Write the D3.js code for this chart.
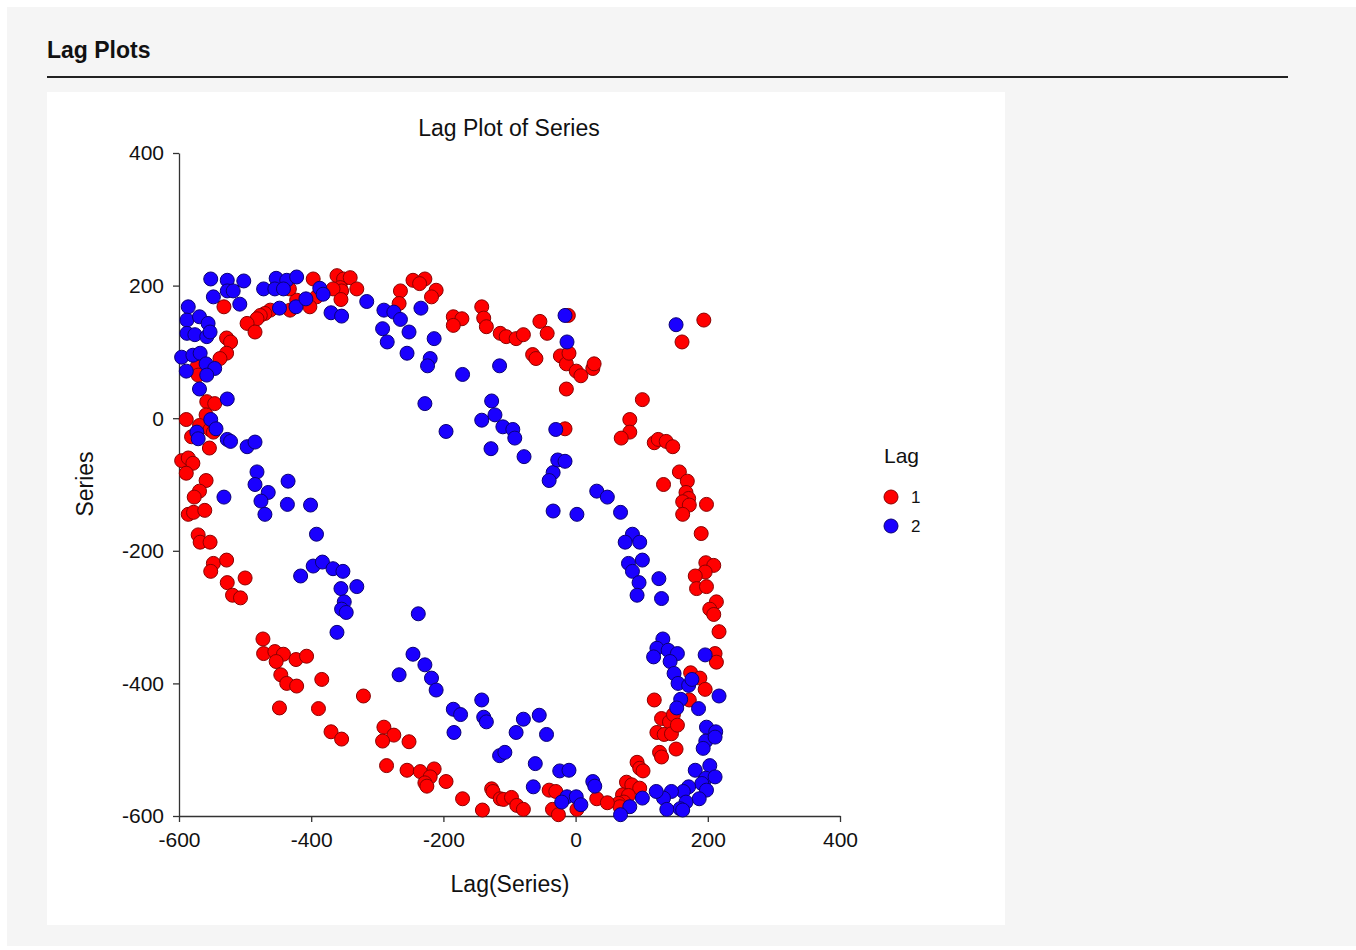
<!DOCTYPE html>
<html>
<head>
<meta charset="utf-8">
<script src="https://cdn.jsdelivr.net/npm/d3@7"></script>
<style>
  body { margin: 0; background: #ffffff; font-family: Arial, "Liberation Sans", sans-serif; }
</style>
</head>
<body>
<svg id="chart" width="1356" height="950"></svg>
<script>
// Lag 1 points [lag(series), series]
var lag1 = [
  [-397,210],[-361,215],[-351,210],[-341,212],[-356,197],[-354,192],[-367,195],[-331,195],[-355,179],[-392,183],
  [-402,168],[-422,178],[-433,195],[-432,163],[-462,163],[-470,158],[-477,155],[-482,150],[-497,143],[-485,130],
  [-532,168],[-528,121],[-522,115],[-528,98],[-538,90],[-573,77],[-571,65],[-558,25],[-546,22],[-559,5],
  [-589,-2],[-569,-11],[-553,-17],[-581,-28],[-548,-21],[-554,-45],[-596,-64],[-586,-60],[-579,-68],
  [-589,-83],[-559,-94],[-569,-110],[-577,-119],[-586,-145],[-578,-142],[-561,-139],[-571,-176],[-568,-187],[-553,-187],
  [-548,-219],[-528,-214],[-552,-231],[-527,-248],[-500,-241],[-519,-267],[-507,-271],[-473,-333],[-472,-355],[-455,-352],
  [-442,-356],[-453,-367],[-423,-364],[-407,-359],
  [-446,-387],[-437,-400],[-422,-404],[-384,-394],[-448,-437],[-389,-438],[-370,-473],[-354,-484],[-321,-419],
  [-290,-466],[-275,-478],[-292,-487],[-252,-488],[-286,-524],[-255,-531],[-235,-533],[-214,-529],[-220,-541],[-228,-550],
  [-225,-555],[-196,-548],[-171,-574],[-141,-591],[-127,-559],[-125,-563],[-114,-574],[-109,-575],[-97,-572],[-89,-584],
  [-79,-590],[-40,-561],[-30,-563],[-35,-590],[-26,-598],
  [-246,208],[-228,210],[-236,203],[-265,192],[-211,193],[-218,183],[-267,173],[-185,153],[-172,150],[-185,140],
  [-142,168],[-139,151],[-135,138],[-114,128],[-105,123],[-90,120],[-79,126],[-54,146],[-43,128],[-65,96],
  [-60,90],[-23,94],[-14,82],[-14,44],[-16,-16],
  [-11,155],[-10,98],[1,71],[8,64],[26,75],[28,82],[194,148],[161,115],[101,28],[82,-2],
  [82,-21],[69,-30],[119,-37],[125,-32],[137,-35],[147,-43],
  [157,-81],[169,-95],[133,-100],[167,-112],[171,-121],[162,-126],[172,-131],[162,-145],[198,-130],[190,-174],
  [197,-218],[209,-222],[196,-232],[181,-238],[183,-257],[198,-254],[213,-277],[203,-288],[209,-296],[217,-322],
  [211,-355],[213,-368],
  [174,-384],[188,-392],[196,-409],[119,-425],[172,-425],[130,-453],[142,-458],[148,-447],[123,-474],[134,-477],
  [145,-476],[154,-463],[127,-504],[130,-511],[152,-499],[93,-519],[97,-528],[102,-532],[77,-549],[85,-553],
  [97,-558],[71,-568],[80,-569],[73,-579],[65,-581],[67,-586],[32,-574],[48,-580],[2,-590]
];

// Lag 2 points
var lag2 = [
  [-552,210],[-527,208],[-502,207],[-548,183],[-527,192],[-518,192],[-508,172],[-472,195],[-453,211],[-437,208],
  [-422,213],[-455,195],[-442,195],[-448,166],[-423,168],[-408,180],[-387,196],[-382,187],[-370,159],[-354,154],
  [-316,176],[-586,168],[-588,148],[-569,153],[-556,143],[-588,128],[-576,126],[-558,123],[-553,130],[-596,92],
  [-579,95],[-568,98],[-559,82],[-546,75],[-589,71],[-558,65],[-569,44],[-527,29],[-552,-2],[-544,-16],
  [-573,-21],[-571,-31],[-527,-32],[-522,-35],[-497,-43],[-485,-36],
  [-482,-81],[-485,-100],[-465,-112],[-476,-125],[-470,-145],[-532,-119],[-435,-95],[-436,-130],[-401,-131],[-392,-175],
  [-397,-223],[-383,-217],[-367,-227],[-352,-231],[-416,-238],[-355,-257],[-331,-254],[-350,-277],[-354,-288],[-347,-293],
  [-361,-323],
  [-238,-295],[-246,-356],[-228,-372],[-267,-387],[-218,-392],[-211,-410],[-185,-439],[-174,-447],[-184,-474],[-142,-425],
  [-139,-451],[-135,-458],[-79,-454],[-55,-448],[-90,-474],[-44,-477],[-115,-509],[-107,-504],[-61,-521],[-64,-556],
  [-34,-82],[-40,-94],[-34,-140],
  [-290,163],[-275,160],[-265,149],[-292,135],[-285,115],[-252,130],[-234,166],[-214,120],[-255,98],[-220,90],
  [-224,79],[-171,66],[-115,79],[-228,22],[-196,-20],[-127,26],[-122,5],[-142,-3],[-110,-13],[-95,-17],
  [-92,-30],[-128,-46],[-78,-58],[-30,-17],[-16,155],[-13,115],[-27,-63],[-16,-65],
  [152,141],
  [2,-145],[32,-110],[48,-119],[68,-142],[86,-175],[75,-187],[97,-187],[101,-214],[80,-219],[86,-231],
  [96,-248],[93,-267],[126,-242],[130,-272],[132,-333],[123,-347],[118,-360],[140,-350],[154,-355],[196,-357],
  [143,-367],[149,-385],[155,-400],[171,-403],[176,-394],[159,-424],[153,-437],[186,-438],[217,-419],[198,-466],
  [212,-473],[197,-487],[193,-498],[211,-481],[181,-531],[203,-524],[197,-543],[211,-541],[191,-551],[198,-561],
  [187,-574],[171,-556],[163,-563],[167,-579],[158,-589],[162,-591],[145,-563],[133,-573],[122,-563],[138,-590],
  [101,-573],[82,-586],[68,-598],[26,-548],[29,-555],[-24,-532],[-10,-531],[-13,-571],[1,-571],[8,-583],
  [-21,-579]
];

var ticks = [-600, -400, -200, 0, 200, 400];
var lagNames = ["1", "2"];
var lagColors = ["#ff0000", "#1a00ff"];
var lagStrokes = ["#8a0000", "#0a0075"];

var svg = d3.select("svg#chart");

// page background and header
svg.append("rect").attr("x", 7).attr("y", 7).attr("width", 1349).attr("height", 939).attr("fill", "#f5f5f5");
svg.append("text").attr("x", 47).attr("y", 58).style("font-size", "23px").style("font-weight", "bold")
    .attr("fill", "#111").text("Lag Plots");
svg.append("line").attr("x1", 47).attr("x2", 1288).attr("y1", 77).attr("y2", 77)
    .attr("stroke", "#222").attr("stroke-width", 2);
svg.append("rect").attr("x", 47).attr("y", 92).attr("width", 958).attr("height", 833).attr("fill", "#ffffff");

// scales
var x = d3.scaleLinear().domain([-600, 400]).range([179, 840]);
var y = d3.scaleLinear().domain([-600, 400]).range([816, 153]);

var fmt = function(d) { return String(d); };
var xAxis = d3.axisBottom(x).tickValues(ticks).tickFormat(fmt).tickSize(6).tickSizeOuter(0);
var yAxis = d3.axisLeft(y).tickValues(ticks).tickFormat(fmt).tickSize(6).tickSizeOuter(0);

var gx = svg.append("g").attr("transform", "translate(0,816)").call(xAxis);
var gy = svg.append("g").attr("transform", "translate(179,0)").call(yAxis);
[gx, gy].forEach(function(g) {
    g.select(".domain").attr("stroke", "#333").attr("stroke-width", 1.3);
    g.selectAll(".tick line").attr("stroke", "#333").attr("stroke-width", 1.3);
    g.selectAll(".tick text").attr("fill", "#111").style("font-size", "21px")
        .style("font-family", "Arial, 'Liberation Sans', sans-serif");
});
gx.selectAll(".tick text").attr("y", 11).attr("dy", "0.95em");
gy.selectAll(".tick text").attr("x", -15).attr("dy", "0.33em");

// titles
svg.append("text").attr("x", 509).attr("y", 136).attr("text-anchor", "middle")
    .style("font-size", "23px").attr("fill", "#111").text("Lag Plot of Series");
svg.append("text").attr("x", 510).attr("y", 892).attr("text-anchor", "middle")
    .style("font-size", "23px").attr("fill", "#111").text("Lag(Series)");
svg.append("text").attr("transform", "translate(93,484) rotate(-90)").attr("text-anchor", "middle")
    .style("font-size", "23px").attr("fill", "#111").text("Series");

// points
[lag1, lag2].forEach(function(data, i) {
    svg.append("g").selectAll("circle").data(data).enter().append("circle")
        .attr("cx", function(d) { return x(d[0]); })
        .attr("cy", function(d) { return y(d[1]); })
        .attr("r", 7)
        .attr("fill", lagColors[i])
        .attr("stroke", lagStrokes[i])
        .attr("stroke-width", 1);
});

// legend
svg.append("text").attr("x", 884).attr("y", 463).style("font-size", "21px").attr("fill", "#111").text("Lag");
lagNames.forEach(function(name, i) {
    var ly = 497 + i * 29;
    svg.append("circle").attr("cx", 891).attr("cy", ly).attr("r", 7)
        .attr("fill", lagColors[i]).attr("stroke", lagStrokes[i]).attr("stroke-width", 1);
    svg.append("text").attr("x", 911).attr("y", ly + 6).style("font-size", "17px").attr("fill", "#111").text(name);
});
</script>
</body>
</html>
